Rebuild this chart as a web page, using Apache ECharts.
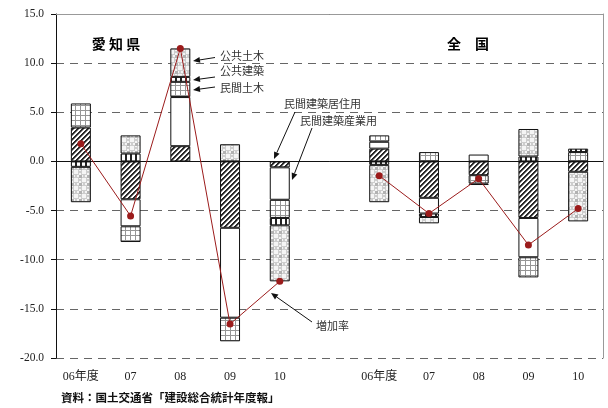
<!DOCTYPE html>
<html><head><meta charset="utf-8">
<script src="https://cdn.jsdelivr.net/npm/echarts@6/dist/echarts.min.js"></script>
<style>html,body{margin:0;padding:0;background:#fff}#c{width:608px;height:408px}</style>
</head><body><div id="c"></div>
<script>
// ---- data ----
const categories = ['06年度','07','08','09','10','','06年度','07','08','09','10'];
const residential    = [3.45,-3.85,1.55,-6.75,-0.6,null,1.3,-3.7,-1.4,-5.75,-1.05];   // 民間建築居住用
const industrial     = [null,-2.75,5.0,-9.15,-3.3,null,0.7,-1.6,0.7,-4.0,null];        // 民間建築産業用
const privateCivil   = [2.45,-1.6,1.55,-2.4,-1.85,null,0.65,0.95,-0.85,-2.05,0.95];    // 民間土木
const publicBuilding = [-0.55,0.8,0.5,null,-0.75,null,-0.35,-0.35,-0.15,0.5,0.35];    // 公共建築
const publicCivil    = [-3.6,1.85,2.9,1.75,-5.7,null,-3.8,-0.65,null,2.8,-5.05];       // 公共土木
const growth         = [1.8,-5.55,11.5,-16.55,-12.2,null,-1.45,-5.3,-1.75,-8.5,-4.8];  // 増加率
const yTicks = {min:-20, max:15, step:5};

// ---- patterns ----
function tile(w,h,fn){
  const c=document.createElement('canvas'); c.width=w; c.height=h;
  const ctx=c.getContext('2d'); const img=ctx.createImageData(w,h);
  for(let y=0;y<h;y++)for(let x=0;x<w;x++){const v=fn(x,y);const i=(y*w+x)*4;img.data[i]=v;img.data[i+1]=v;img.data[i+2]=v;img.data[i+3]=255;}
  ctx.putImageData(img,0,0); return c;
}
const hatch = tile(5,5,(x,y)=>{const k=(x+y)%5;return k<2?40:(k===2?140:255);});
const vstripe = tile(5,5,(x,y)=> (x%5)<2?35:255);
const gridPat = tile(5,5,(x,y)=> (x%5===0||y%5===0)?150:255);
const checker = tile(8,8,(x,y)=>{
  const dx=x-3.5, dy=y-3.5, d=Math.sqrt(dx*dx+dy*dy);
  if((x===7||x===0||x===1)&&(y===7||y===0||y===1)) return 178;
  if(d>2.2&&d<3.7) return 205;
  return 245;
});
const pat = c => ({image:c, repeat:'repeat'});

const border = {borderColor:'#111', borderWidth:1};
function barSeries(name,data,color,extra){
  return Object.assign({name,type:'bar',stack:'s',data,barWidth:20,
    itemStyle:Object.assign({color},border),emphasis:{disabled:true}},extra||{});
}

const chart = echarts.init(document.getElementById('c'),null,{renderer:'canvas'});
const serif = '"Liberation Serif","Noto Sans CJK JP",serif';
const option = {
  animation:false,
  grid:{left:56,right:5,top:14,bottom:50,containLabel:false},
  xAxis:[
    {type:'category',data:categories,position:'bottom',
     axisLine:{show:false,onZero:false},axisTick:{show:false},
     axisLabel:{interval:0,margin:13,color:'#222',fontSize:12,fontFamily:serif},splitLine:{show:false}},
    {type:'category',data:categories,position:'top',
     axisLine:{show:true,onZero:false,lineStyle:{color:'#999',width:1}},axisTick:{show:false},axisLabel:{show:false}}
  ],
  yAxis:[
    {type:'value',min:yTicks.min,max:yTicks.max,interval:yTicks.step,
     axisLine:{show:true,onZero:false,lineStyle:{color:'#111',width:1}},
     axisTick:{show:true,length:5,inside:false,lineStyle:{color:'#111'}},
     axisLabel:{margin:12,color:'#222',fontSize:11.5,fontFamily:serif,formatter:v=>v.toFixed(1)},
     splitLine:{show:true,lineStyle:{color:'#666',type:[8,6],width:1}}},
    {type:'value',min:yTicks.min,max:yTicks.max,interval:yTicks.step,position:'right',
     axisLine:{show:true,onZero:false,lineStyle:{color:'#999',width:1}},axisTick:{show:false},axisLabel:{show:false},splitLine:{show:false}}
  ],
  series:[
    barSeries('民間建築居住用',residential,pat(hatch),{
      markLine:{silent:true,symbol:'none',label:{show:false},lineStyle:{color:'#111',type:'solid',width:1},data:[{yAxis:0}]}}),
    barSeries('民間建築産業用',industrial,'#ffffff'),
    barSeries('民間土木',privateCivil,pat(gridPat)),
    barSeries('公共建築',publicBuilding,pat(vstripe)),
    barSeries('公共土木',publicCivil,pat(checker)),
    {name:'増加率',type:'line',data:growth,connectNulls:false,z:5,
     lineStyle:{color:'#9b1b1b',width:1},itemStyle:{color:'#9b1b1b'},
     symbol:'circle',symbolSize:7,showSymbol:true,emphasis:{disabled:true}}
  ]
};
chart.setOption(option);

// ---- annotations ----
function arrow(x1,y1,x2,y2){
  const a=Math.atan2(y2-y1,x2-x1), L=7, W=3;
  const bx=x2-L*Math.cos(a), by=y2-L*Math.sin(a);
  const px=-Math.sin(a)*W, py=Math.cos(a)*W;
  return [
    {type:'line',shape:{x1,y1,x2:bx,y2:by},style:{stroke:'#111',lineWidth:1},silent:true,z:10},
    {type:'polygon',shape:{points:[[x2,y2],[bx+px,by+py],[bx-px,by-py]]},style:{fill:'#111'},silent:true,z:10}
  ];
}
const sans = '"Noto Sans CJK JP",sans-serif';
function label(text,x,y,opt){
  return Object.assign({type:'text',x,y,silent:true,z:10,
    style:Object.assign({text,fill:'#333',font:'11px '+sans,textVerticalAlign:'middle',textAlign:'left'},opt||{})});
}
const g = [].concat(
  label('愛 知 県',116,44,{font:'bold 14px '+sans,fill:'#000',textAlign:'center'}),
  label('全　国',468,44,{font:'bold 14px '+sans,fill:'#000',textAlign:'center'}),
  label('公共土木',220,56), arrow(215,57.5,193,61),
  label('公共建築',220,71), arrow(215,77,193,80),
  label('民間土木',220,88), arrow(215,87,193,90),
  label('民間建築居住用',284,104), arrow(295,112,274,159),
  label('民間建築産業用',300,121), arrow(312,128,292,180),
  label('増加率',316,326), arrow(312,322,271,293),
  label('資料：国土交通省「建設総合統計年度報」',61,398,{font:'bold 11.5px '+sans,fill:'#111'})
);
chart.setOption({graphic:g});
</script></body></html>
